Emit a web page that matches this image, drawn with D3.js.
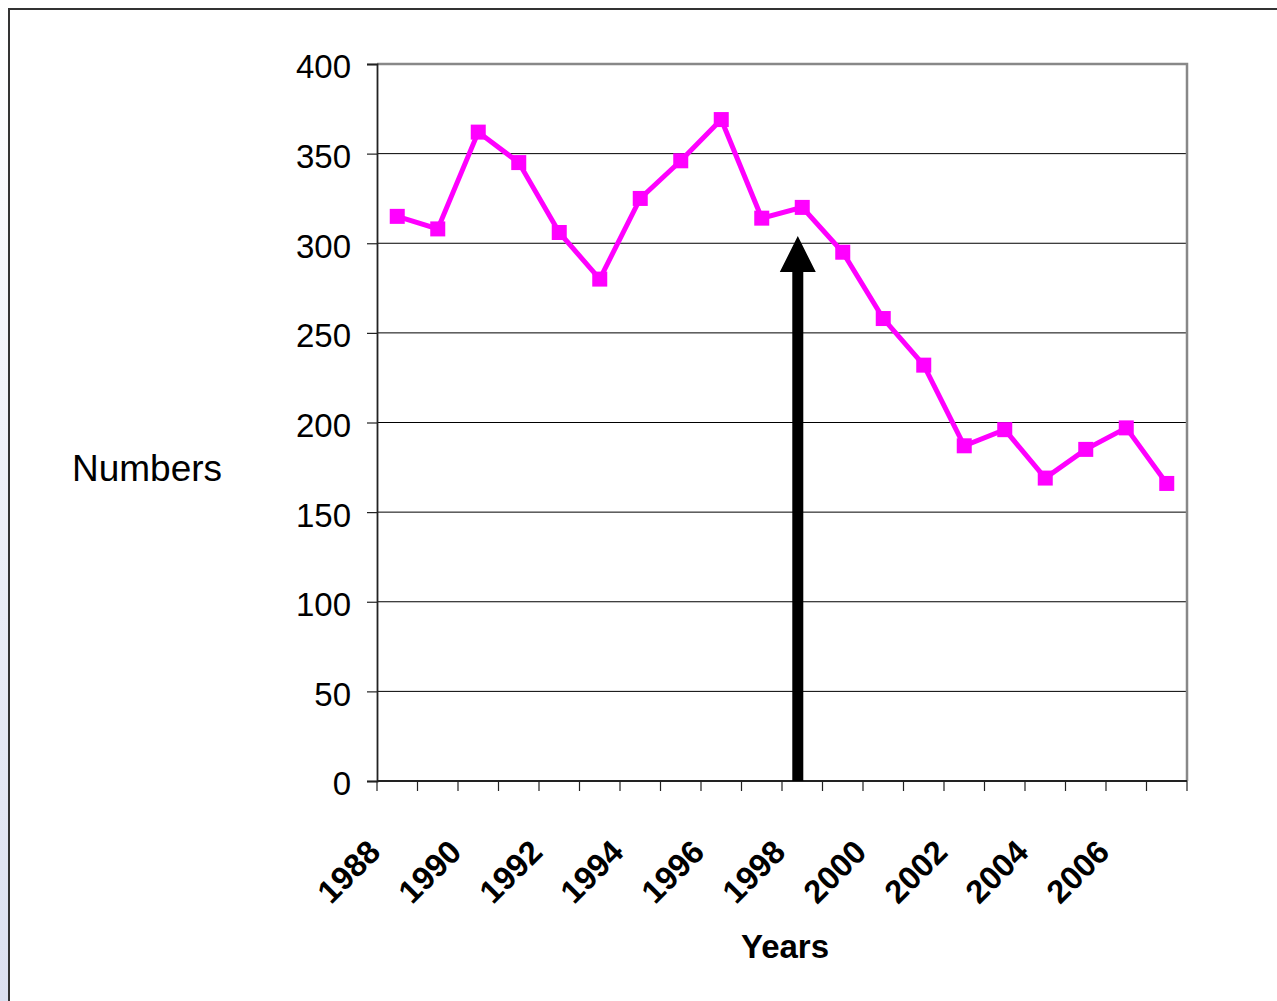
<!DOCTYPE html>
<html>
<head>
<meta charset="utf-8">
<script src="https://cdn.jsdelivr.net/npm/d3@7"></script>
<style>
html,body{margin:0;padding:0;background:#fff;}
svg{display:block;font-family:"Liberation Sans",Arial,sans-serif;}
</style>
</head>
<body>
<svg id="chart" width="1277" height="1001"></svg>
<script>
const years = [1988,1989,1990,1991,1992,1993,1994,1995,1996,1997,1998,1999,2000,2001,2002,2003,2004,2005,2006,2007];
const numbers = [315,308,362,345,306,280,325,346,369,314,320,295,258,232,187,196,169,185,197,166];
const yTicks = [0,50,100,150,200,250,300,350,400];
const xTickLabels = [1988,1990,1992,1994,1996,1998,2000,2002,2004,2006];
const arrowYear = 1997.89;   // annotation position
const arrowTipValue = 304;

(function(){
const svg = d3.select("#chart");
const W = 1277, H = 1001;
const pLeft = 377, pRight = 1187, pTop = 64, pBottom = 781;

// frame / background
const defs = svg.append("defs");
const grad = defs.append("linearGradient").attr("id","strip").attr("x1",0).attr("y1",0).attr("x2",0).attr("y2",1);
grad.append("stop").attr("offset","0%").attr("stop-color","#ffffff");
grad.append("stop").attr("offset","100%").attr("stop-color","#dbe0f0");
svg.append("rect").attr("x",0).attr("y",0).attr("width",8).attr("height",H).attr("fill","url(#strip)");
svg.append("path").attr("d",`M9,${H} L9,9 L${W},9`).attr("fill","none").attr("stroke","#333").attr("stroke-width",2);

const x = d3.scaleBand().domain(years).range([pLeft,pRight]).padding(0);
const xLin = d3.scaleLinear().domain([years[0]-0.5, years[years.length-1]+0.5]).range([pLeft,pRight]);
const y = d3.scaleLinear().domain([0,400]).range([pBottom,pTop]);
const cx = d => x(d) + x.bandwidth()/2;

// gridlines
svg.append("g").selectAll("line").data(yTicks.filter(t=>t>0 && t<400)).join("line")
  .attr("x1",pLeft).attr("x2",pRight).attr("y1",d=>y(d)).attr("y2",d=>y(d))
  .attr("stroke","#000").attr("stroke-width",1);

// plot border top/right (gray)
svg.append("path").attr("d",`M${pLeft},${y(400)} L${pRight},${y(400)} L${pRight},${y(0)}`)
  .attr("fill","none").attr("stroke","#888").attr("stroke-width",2.5);

// y axis
const yAxis = d3.axisLeft(y).tickValues(yTicks).tickSize(10).tickPadding(16).tickFormat(d3.format("d"));
const gy = svg.append("g").attr("transform",`translate(${pLeft},0)`).call(yAxis);
gy.select(".domain").attr("stroke","#222").attr("stroke-width",1.8);
gy.selectAll(".tick line").attr("stroke","#222").attr("stroke-width",1.2);
gy.selectAll(".tick text").attr("font-size",33).attr("font-family","Liberation Sans, Arial, sans-serif")
  .attr("fill","#000").attr("dy","0.42em");

// x axis: ticks at category boundaries
const boundaries = d3.range(years.length+1).map(i => years[0]-0.5+i);
const gx = svg.append("g");
gx.append("line").attr("x1",pLeft).attr("x2",pRight).attr("y1",pBottom).attr("y2",pBottom)
  .attr("stroke","#222").attr("stroke-width",2);
gx.selectAll("line.t").data(boundaries).join("line").attr("class","t")
  .attr("x1",d=>xLin(d)).attr("x2",d=>xLin(d)).attr("y1",pBottom).attr("y2",pBottom+10)
  .attr("stroke","#222").attr("stroke-width",1.2);
gx.selectAll("text").data(xTickLabels).join("text")
  .attr("transform",d=>`translate(${cx(d)-15},${pBottom+73}) rotate(-45)`)
  .attr("text-anchor","end").attr("font-size",32.5).attr("font-weight","bold").attr("fill","#000")
  .text(d=>d);

// axis titles
svg.append("text").attr("x",72).attr("y",481).attr("font-size",37).attr("fill","#000").text("Numbers");
svg.append("text").attr("x",785).attr("y",958).attr("text-anchor","middle").attr("font-size",33)
  .attr("font-weight","bold").attr("fill","#000").text("Years");

// series line
const line = d3.line().x((d,i)=>cx(years[i])).y(d=>y(d));
svg.append("path").datum(numbers).attr("d",line).attr("fill","none")
  .attr("stroke","#ff00ff").attr("stroke-width",5).attr("stroke-linejoin","miter");
svg.append("g").selectAll("rect").data(numbers).join("rect")
  .attr("x",(d,i)=>cx(years[i])-7.5).attr("y",d=>y(d)-7.5).attr("width",15).attr("height",15)
  .attr("fill","#ff00ff");

// arrow annotation
const ax = xLin(arrowYear), tipY = y(arrowTipValue);
const headH = 36, headW = 18, shaftW = 5.5;
svg.append("path").attr("d",
  `M${ax-shaftW},${y(0)} L${ax-shaftW},${tipY+headH} L${ax-headW},${tipY+headH} L${ax},${tipY} L${ax+headW},${tipY+headH} L${ax+shaftW},${tipY+headH} L${ax+shaftW},${y(0)} Z`)
  .attr("fill","#000");
})();
</script>
</body>
</html>
